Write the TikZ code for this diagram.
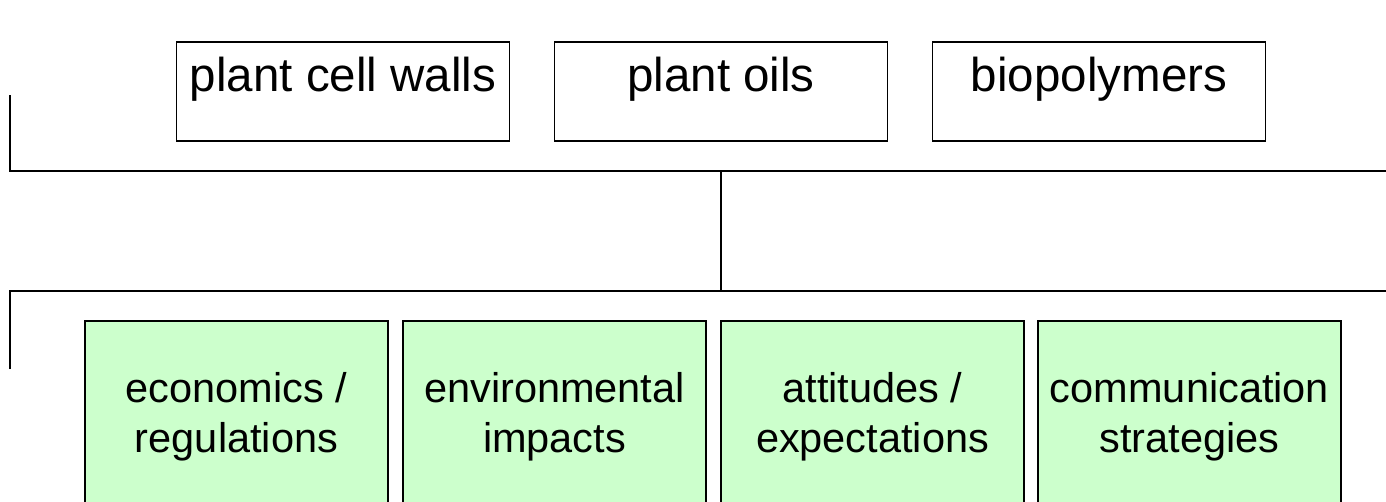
\documentclass[tikz,border=0pt]{standalone}
\usepackage{fontspec}
\setmainfont{Liberation Sans}
\definecolor{softgreen}{RGB}{204,255,204}
\tikzset{
  topbox/.style={
    draw, rectangle, minimum height=99pt, minimum width=333pt, inner sep=0pt,
    line width=1.8pt, font=\fontsize{47.5}{56}\selectfont, text height=0pt, text depth=0pt
  },
  areabox/.style={
    draw, rectangle, fill=softgreen, minimum height=192pt, minimum width=303pt,
    inner sep=0pt, line width=1.8pt, align=center,
    font=\fontsize{41.5}{50}\selectfont
  },
  bar/.style={line width=1.8pt}
}

\begin{document}
\begin{tikzpicture}[x=1pt, y=-1pt]
  \clip (0, 0) rectangle (1386, 501);
  \fill[white] (0, 0) rectangle (1386, 501);

  % sources
  \node[topbox] (walls) at (343, 91.5) {plant cell walls};
  \node[topbox] (oils) at (721, 91.5) {plant oils};
  \node[topbox] (polymers) at (1099, 91.5) {biopolymers};

  % bracket points
  \coordinate (ttop) at (10, 95);
  \coordinate (tcorner) at (10, 171);
  \coordinate (tend) at (1392, 171);
  \coordinate (mtop) at (721, 171);
  \coordinate (mbot) at (721, 291);
  \coordinate (bcorner) at (10, 291);
  \coordinate (bend) at (1392, 291);
  \coordinate (bbot) at (10, 369);

  \draw[bar] (ttop) -- (tcorner) -- (tend);
  \draw[bar] (mtop) -- (mbot);
  \draw[bar] (bbot) -- (bcorner) -- (bend);

  % research areas
  \node[areabox] (econ) at (236.5, 417) {economics /\\regulations};
  \node[areabox] (env) at (554.5, 417) {environmental\\impacts};
  \node[areabox] (att) at (872.5, 417) {attitudes /\\expectations};
  \node[areabox] (comm) at (1189.5, 417) {communication\\strategies};
\end{tikzpicture}
\end{document}
